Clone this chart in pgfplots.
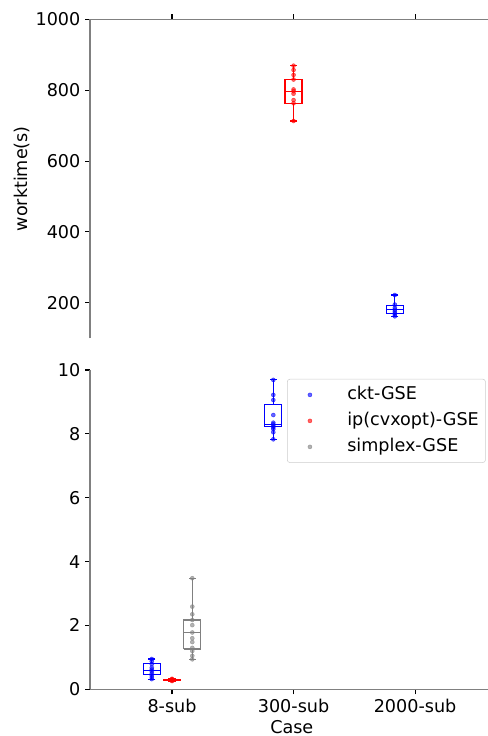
\documentclass[border=0pt]{standalone}
\usepackage{fontspec}
\setmainfont{DejaVu Sans}
\usepackage{pgfplots}
\pgfplotsset{compat=1.18}

\pgfplotsset{
  panel/.style={
    scale only axis,
    width=298.5pt,
    xmin=-0.675, xmax=2.6,
    enlarge x limits=false,
    xtick={0,1,2},
    axis line style={black!50, line width=0.8pt},
    tick style={black, line width=0.8pt},
    tick align=outside,
    major tick length=3.7pt,
    /pgf/number format/1000 sep={},
    /pgf/number format/assume math mode=true,
    tick label style={font=\fontsize{13.2}{15}\selectfont},
    label style={font=\fontsize{13.2}{15}\selectfont},
    clip=false,
  },
  bx/.style={line width=0.9pt, forget plot, mark=none},
  pts/.style={only marks, mark=*, mark size=1.5pt, opacity=0.6},
}

% #1 colour, #2 left, #3 centre, #4 right, #5 low whisker, #6 Q1, #7 median, #8 Q3, #9 high whisker
\newcommand{\boxplt}[9]{%
  \addplot[#1,bx] coordinates {(#2,#6) (#4,#6) (#4,#8) (#2,#8) (#2,#6)};
  \addplot[#1,bx] coordinates {(#2,#7) (#4,#7)};
  \addplot[#1,bx,mark=-,mark size=2.7pt,mark indices={2},mark options={solid}] coordinates {(#3,#6) (#3,#5)};
  \addplot[#1,bx,mark=-,mark size=2.7pt,mark indices={2},mark options={solid}] coordinates {(#3,#8) (#3,#9)};
}

\begin{document}
\begin{tikzpicture}
\useasboundingbox (0pt,0pt) rectangle (366pt,552pt);

% upper panel (large times)
\begin{axis}[panel,
  at={(67.5pt,298.3pt)}, anchor=south west,
  height=239.25pt,
  ymin=100, ymax=1000,
  ytick={200,400,600,800,1000},
  axis x line=top, axis y line=left,
  x axis line style={-}, y axis line style={-},
  xtick align=outside, ytick align=outside,
  xticklabels={},
  ylabel={worktime(s)},
  y label style={at={(axis description cs:-0.17,0.5)}, anchor=center},
]
\boxplt{red}{0.93}{1}{1.07}{713}{762}{797}{830}{869}
\addplot[red, pts] coordinates {
  (1,869) (1,857) (1,843) (1,830) (1,802) (1,797) (1,790) (1,772) (1,763) (1,713)
};
\boxplt{blue}{1.7633}{1.8333}{1.9033}{162}{170}{181}{193}{222}
\addplot[blue, pts] coordinates {
  (1.8333,222) (1.8333,195) (1.8333,186) (1.8333,181) (1.8333,176)
  (1.8333,171) (1.8333,166) (1.8333,162)
};
\end{axis}

% lower panel (small times)
\begin{axis}[panel,
  at={(67.5pt,35pt)}, anchor=south west,
  height=239.5pt,
  ymin=0, ymax=10,
  ytick={0,2,4,6,8,10},
  axis x line=bottom, axis y line=left,
  x axis line style={-}, y axis line style={-},
  xtick align=outside, ytick align=outside,
  xticklabels={8-sub,300-sub,2000-sub},
  xlabel={Case},
  x label style={at={(axis description cs:0.507,-0.118)}, anchor=center},
  legend cell align=left,
  legend image code/.code={
    \path[draw=none, fill=none] (0pt,-3pt) rectangle (40pt,3pt);
    \draw[#1] plot coordinates {(14pt,0pt)};
  },
  legend style={at={(0.495,0.972)}, anchor=north west,
    draw=black!20, rounded corners=2pt, fill=white,
    inner xsep=3pt, inner ysep=3.5pt,
    row sep=3pt, column sep=0pt,
    font=\fontsize{13.2}{15}\selectfont,
    nodes={inner sep=2pt, text height=9.5pt, text depth=3pt}},
]
\boxplt{blue}{-0.2367}{-0.1667}{-0.0967}{0.32}{0.47}{0.60}{0.81}{0.95}
\boxplt{blue}{0.7633}{0.8333}{0.9033}{7.83}{8.22}{8.30}{8.93}{9.69}
\boxplt{red}{-0.07}{0}{0.07}{0.26}{0.28}{0.29}{0.30}{0.33}
\boxplt{gray}{0.0967}{0.1667}{0.2367}{0.94}{1.26}{1.78}{2.17}{3.48}

\addplot[blue, pts] coordinates {
  (-0.1667,0.95) (-0.1667,0.88) (-0.1667,0.79) (-0.1667,0.68) (-0.1667,0.62)
  (-0.1667,0.57) (-0.1667,0.50) (-0.1667,0.44) (-0.1667,0.38) (-0.1667,0.32)
  (0.8333,9.69) (0.8333,9.22) (0.8333,9.06) (0.8333,8.59) (0.8333,8.35)
  (0.8333,8.30) (0.8333,8.25) (0.8333,8.20) (0.8333,8.15) (0.8333,8.05) (0.8333,7.83)
};
\addlegendentry{ckt-GSE}
\addplot[red, pts] coordinates {
  (0,0.26) (0,0.28) (0,0.29) (0,0.29) (0,0.30) (0,0.30) (0,0.31) (0,0.33)
};
\addlegendentry{ip(cvxopt)-GSE\hspace{10pt}}
\addplot[gray, pts] coordinates {
  (0.1667,3.48) (0.1667,2.59) (0.1667,2.35) (0.1667,2.17) (0.1667,2.01)
  (0.1667,1.78) (0.1667,1.60) (0.1667,1.48) (0.1667,1.30) (0.1667,1.20)
  (0.1667,1.05) (0.1667,0.94)
};
\addlegendentry{simplex-GSE}
\end{axis}
\end{tikzpicture}
\end{document}
